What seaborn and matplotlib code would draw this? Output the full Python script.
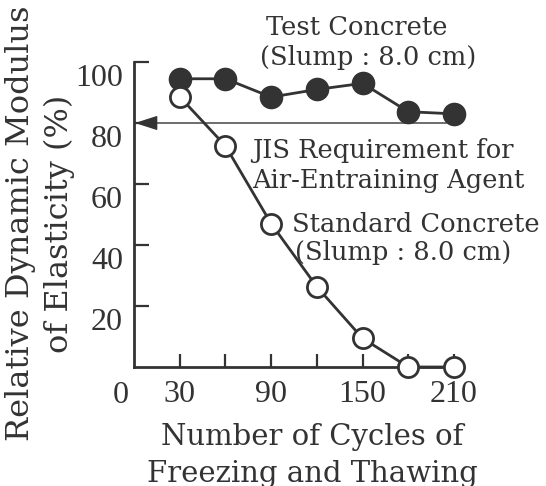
import matplotlib
matplotlib.use("Agg")
import matplotlib.pyplot as plt
import matplotlib.transforms as mtransforms
import seaborn as sns
import pandas as pd

# ---- data ----
cycles = [30, 60, 90, 120, 150, 180, 210]
test_concrete = [94.5, 94.5, 88.5, 91, 93, 83.7, 83]
standard_concrete = [88.6, 72.5, 47, 26.3, 9.4, 0, 0]
x_tick_values = [30, 60, 90, 120, 150, 180, 210]
x_tick_labels = ["30", "", "90", "", "150", "", "210"]
y_tick_values = [20, 40, 60, 80, 100]
y_tick_labels = ["20", "40", "60", "80", "100"]
jis_requirement = 80

INK = "#333333"
FONT = "DejaVu Serif"
TICKFONT = "Liberation Serif"
ANN = 18.5

sns.set_style("ticks")
plt.rcParams["font.family"] = [FONT]
plt.rcParams["text.color"] = INK
plt.rcParams["axes.labelcolor"] = INK
plt.rcParams["xtick.color"] = INK
plt.rcParams["ytick.color"] = INK

fig = plt.figure(figsize=(5.46, 4.86), dpi=100)
W, H = 546, 486
ax = fig.add_axes([134 / W, (H - 367) / H, 320 / W, 305 / H])

df = pd.DataFrame({"cycles": cycles, "test": test_concrete, "standard": standard_concrete})

sns.lineplot(data=df, x="cycles", y="test", ax=ax, color=INK, linewidth=2,
             marker="o", markersize=15.5, markerfacecolor=INK, markeredgecolor=INK,
             markeredgewidth=1.5, clip_on=False, zorder=3)
sns.lineplot(data=df, x="cycles", y="standard", ax=ax, color=INK, linewidth=2,
             marker="o", markersize=14.5, markerfacecolor="white", markeredgecolor=INK,
             markeredgewidth=2, clip_on=False, zorder=4)

ax.set_xlim(0, 210)
ax.set_ylim(0, 100)

for side in ["top", "right"]:
    ax.spines[side].set_visible(False)
for side in ["left", "bottom"]:
    ax.spines[side].set_linewidth(2)
    ax.spines[side].set_color(INK)

ax.set_xticks(x_tick_values)
ax.set_xticklabels(x_tick_labels, fontfamily=TICKFONT)
ax.set_yticks(y_tick_values)
ax.set_yticklabels(y_tick_labels, fontfamily=TICKFONT)
ax.tick_params(axis="x", direction="in", length=9.5, width=1.6, labelsize=23, pad=9)
ax.tick_params(axis="y", direction="in", length=11, width=1.6, labelsize=23, pad=8)

# y tick labels sit slightly below their ticks in the reference
offset = mtransforms.ScaledTranslation(0, -13 / 100, fig.dpi_scale_trans)
for lab in ax.get_yticklabels():
    lab.set_transform(lab.get_transform() + offset)

# origin label
ax.text(-8.5, 0, "0", fontsize=23, family=TICKFONT, ha="center", va="center",
        transform=mtransforms.blended_transform_factory(ax.transData, ax.transAxes)
        + mtransforms.ScaledTranslation(0, -28 / 100, fig.dpi_scale_trans),
        clip_on=False)

# JIS requirement arrow
ax.annotate("", xy=(0.6, jis_requirement), xytext=(205, jis_requirement),
            arrowprops=dict(arrowstyle="-|>,head_length=1.4,head_width=0.45",
                            color=INK, lw=1.0, shrinkA=0, shrinkB=0),
            zorder=2, annotation_clip=False)

# annotations
ax.text(146.5, 108.9, "Test Concrete", fontsize=ANN, ha="center", va="baseline", clip_on=False)
ax.text(153.5, 99.0, "(Slump : 8.0 cm)", fontsize=ANN, ha="center", va="baseline", clip_on=False)
ax.text(77.4, 68.5, "JIS Requirement for", fontsize=ANN, ha="left", va="baseline")
ax.text(77.4, 58.7, "Air-Entraining Agent", fontsize=ANN, ha="left", va="baseline")
ax.text(103.7, 44.3, "Standard Concrete", fontsize=ANN, ha="left", va="baseline")
ax.text(105.5, 35.1, "(Slump : 8.0 cm)", fontsize=ANN, ha="left", va="baseline")

ax.set_xlabel("Number of Cycles of\nFreezing and Thawing", fontsize=21, linespacing=1.4)
ax.xaxis.set_label_coords(0.556, -0.289)
ax.xaxis.label.set_va("center")
ax.set_ylabel("Relative Dynamic Modulus\nof Elasticity (%)", fontsize=23, linespacing=1.3)
ax.yaxis.set_label_coords(-0.294, 0.47)
ax.yaxis.label.set_va("center")

fig.savefig("out.png", dpi=100)
